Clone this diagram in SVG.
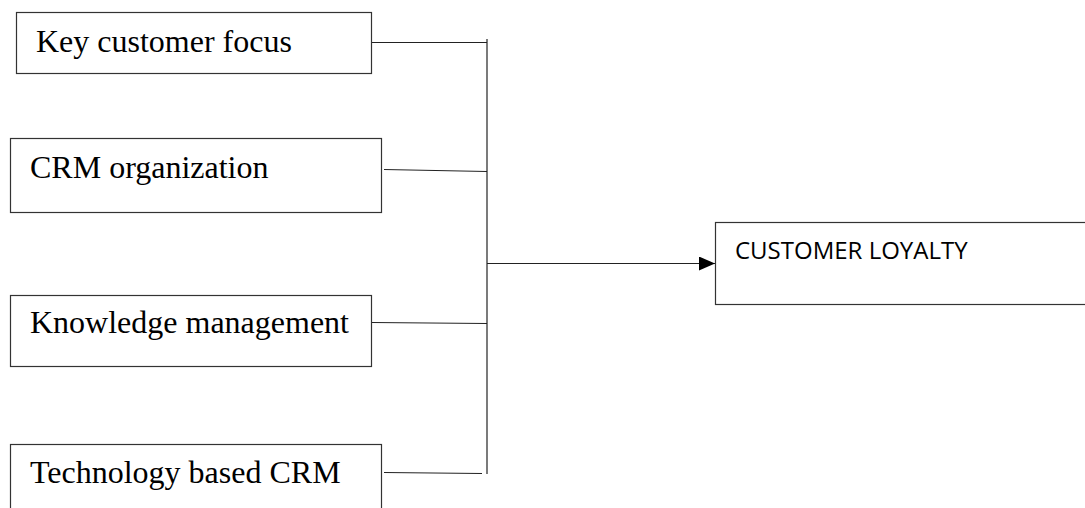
<svg xmlns="http://www.w3.org/2000/svg" width="1085" height="508" viewBox="0 0 1085 508">
<style>
.box{fill:#fff;stroke:#333;stroke-width:1.2}
.lbl{font-family:"Liberation Serif","Times New Roman",serif;font-size:32px;fill:#000}
.sans{font-family:"Open Sans","Noto Sans",sans-serif;font-size:24px;fill:#000}
.ln{stroke:#222;stroke-width:1.2;fill:none}
</style>
<defs>
<marker id="arr" markerWidth="16" markerHeight="14" refX="16" refY="7" orient="auto" markerUnits="userSpaceOnUse">
<path d="M0,0 L16,7 L0,14 Z" fill="#000"/>
</marker>
</defs>
<rect width="1085" height="508" fill="#fff"/>
<g id="n1"><rect class="box" x="16.5" y="12.5" width="355" height="61"/><text class="lbl" x="36" y="52">Key customer focus</text></g>
<g id="n2"><rect class="box" x="10.5" y="138.5" width="371" height="74"/><text class="lbl" x="30" y="178">CRM organization</text></g>
<g id="n3"><rect class="box" x="10.5" y="295.5" width="361" height="71"/><text class="lbl" x="30" y="333">Knowledge management</text></g>
<g id="n4"><rect class="box" x="10.5" y="444.5" width="371" height="80"/><text class="lbl" x="30" y="483">Technology based CRM</text></g>
<g id="n5"><rect class="box" x="715.5" y="222.5" width="380" height="82"/><text class="sans" x="735" y="259">CUSTOMER LOYALTY</text></g>
<g id="connectors">
<line class="ln" x1="487" y1="39" x2="487" y2="474"/>
<line class="ln" x1="372" y1="42.5" x2="487" y2="42.5"/>
<line class="ln" x1="384" y1="169.5" x2="487" y2="171.5"/>
<line class="ln" x1="372" y1="322.5" x2="487" y2="323.5"/>
<line class="ln" x1="384" y1="472.5" x2="482" y2="473.5"/>
<line class="ln" x1="487" y1="263.5" x2="715" y2="263.5" marker-end="url(#arr)"/>
</g>
</svg>
